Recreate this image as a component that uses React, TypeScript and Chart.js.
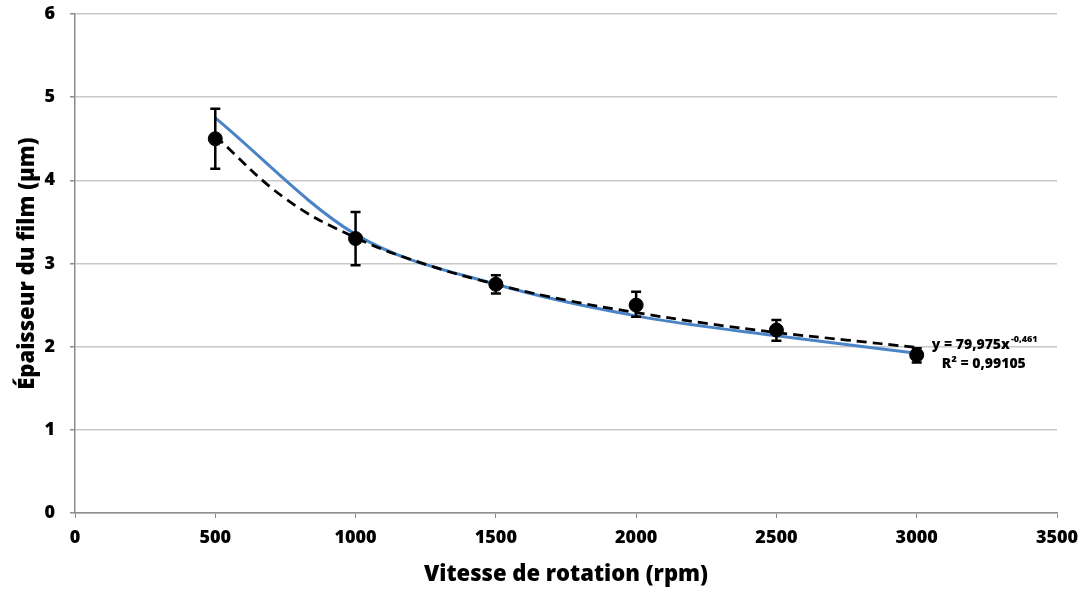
import React, { useEffect, useRef } from 'react';
import { Chart, registerables } from 'chart.js';

Chart.register(...registerables);

// Measured points
const speeds = [500, 1000, 1500, 2000, 2500, 3000];
const thickness = [4.5, 3.3, 2.75, 2.5, 2.2, 1.9];
const errorsUp = [0.36, 0.32, 0.11, 0.16, 0.12, 0.08];
const errorsDown = [0.36, 0.32, 0.11, 0.14, 0.13, 0.09];

// Smoothed (blue) series
const smoothValues = [4.75, 3.35, 2.75, 2.37, 2.13, 1.92];

// Power trend line (dashed)
const trendSpeeds = [500, 750, 1000, 1250, 1500, 1750, 2000, 2250, 2500, 2750, 3000];
const trendValues = [4.53, 3.78, 3.31, 2.99, 2.75, 2.56, 2.41, 2.28, 2.17, 2.08, 1.99];

// Labels
const xTitle = 'Vitesse de rotation (rpm)';
const yTitle = 'Épaisseur du film (µm)';
const equationMain = 'y = 79,975x';
const equationExp = '-0,461';
const r2Text = 'R² = 0,99105';

const FONT = '"Open Sans", "DejaVu Sans", sans-serif';
const W = 800;

const errorBarPlugin = {
  id: 'errorBars',
  afterDatasetsDraw(chart: any) {
    const { ctx, scales } = chart;
    const xs = scales.x;
    const ys = scales.y;
    ctx.save();
    ctx.strokeStyle = '#000';
    ctx.lineWidth = 2.5;
    speeds.forEach((s, i) => {
      const px = xs.getPixelForValue(s);
      const top = ys.getPixelForValue(thickness[i] + errorsUp[i]);
      const bot = ys.getPixelForValue(thickness[i] - errorsDown[i]);
      ctx.beginPath();
      ctx.moveTo(px, top);
      ctx.lineTo(px, bot);
      ctx.moveTo(px - 5, top);
      ctx.lineTo(px + 5, top);
      ctx.moveTo(px - 5, bot);
      ctx.lineTo(px + 5, bot);
      ctx.stroke();
    });
    // equation
    const ex = xs.getPixelForValue(3000) + 15;
    const ey = ys.getPixelForValue(2) + 2;
    ctx.fillStyle = '#000';
    ctx.textBaseline = 'alphabetic';
    ctx.textAlign = 'left';
    ctx.font = `${W} 14px ${FONT}`;
    ctx.fillText(equationMain, ex, ey);
    const w = ctx.measureText(equationMain).width;
    ctx.font = `${W} 9px ${FONT}`;
    ctx.fillText(equationExp, ex + w + 1, ey - 7);
    ctx.font = `${W} 14px ${FONT}`;
    ctx.fillText(r2Text, ex + 10, ey + 19);
    ctx.restore();
  },
};

export default function App() {
  const ref = useRef<HTMLCanvasElement | null>(null);
  useEffect(() => {
    if (!ref.current) return;
    const chart = new Chart(ref.current, {
      type: 'scatter',
      data: {
        datasets: [
          {
            label: 'Mesures',
            data: speeds.map((s, i) => ({ x: s, y: thickness[i] })),
            showLine: false,
            pointRadius: 7,
            pointBorderWidth: 1,
            pointBackgroundColor: '#000',
            pointBorderColor: '#000',
          },
          {
            label: 'Puissance',
            data: trendSpeeds.map((s, i) => ({ x: s, y: trendValues[i] })),
            showLine: true,
            borderColor: '#000',
            borderWidth: 2.75,
            borderDash: [10, 6],
            pointRadius: 0,
            tension: 0.4,
          },
          {
            label: 'Lissé',
            data: speeds.map((s, i) => ({ x: s, y: smoothValues[i] })),
            showLine: true,
            borderColor: '#4A84C6',
            borderWidth: 3,
            pointRadius: 0,
            cubicInterpolationMode: 'monotone',
          },
        ],
      },
      options: {
        animation: false,
        responsive: false,
        layout: { padding: { top: 14, right: 26, left: 0, bottom: 0 } },
        plugins: { legend: { display: false }, tooltip: { enabled: false } },
        scales: {
          x: {
            type: 'linear',
            min: 0,
            max: 3500,
            afterFit: (s: any) => {
              s.height = 76;
              s.paddingLeft = 0;
              s.paddingRight = 0;
            },
            ticks: {
              stepSize: 500,
              color: '#000',
              font: { family: FONT, size: 18, weight: W },
              padding: 9,
              callback: (v: any) => String(v),
            },
            grid: { drawOnChartArea: false, drawTicks: true, tickLength: 5, color: '#8c8c8c' },
            border: { color: '#8c8c8c', width: 1.5 },
            title: { display: true, text: xTitle, color: '#000', font: { family: FONT, size: 22, weight: W }, padding: { top: 6, bottom: 1 } },
          },
          y: {
            min: 0,
            max: 6,
            afterFit: (s: any) => {
              s.width = 75;
              s.paddingTop = 0;
              s.paddingBottom = 0;
            },
            ticks: { stepSize: 1, color: '#000', font: { family: FONT, size: 18, weight: W }, padding: 15 },
            grid: { color: '#c8c8c8', lineWidth: 1.5, tickLength: 5, tickColor: '#8c8c8c' },
            border: { color: '#8c8c8c', width: 1.5 },
            title: { display: true, text: yTitle, color: '#000', font: { family: FONT, size: 22, weight: W }, padding: { top: 15, bottom: 0 } },
          },
        },
      },
      plugins: [errorBarPlugin],
    } as any);
    return () => chart.destroy();
  }, []);
  return (
    <div style={{ position: 'fixed', left: 0, top: 0, width: 1083, height: 589, background: '#fff' }}>
      <canvas ref={ref} width={1083} height={589} style={{ width: 1083, height: 589 }} />
    </div>
  );
}
